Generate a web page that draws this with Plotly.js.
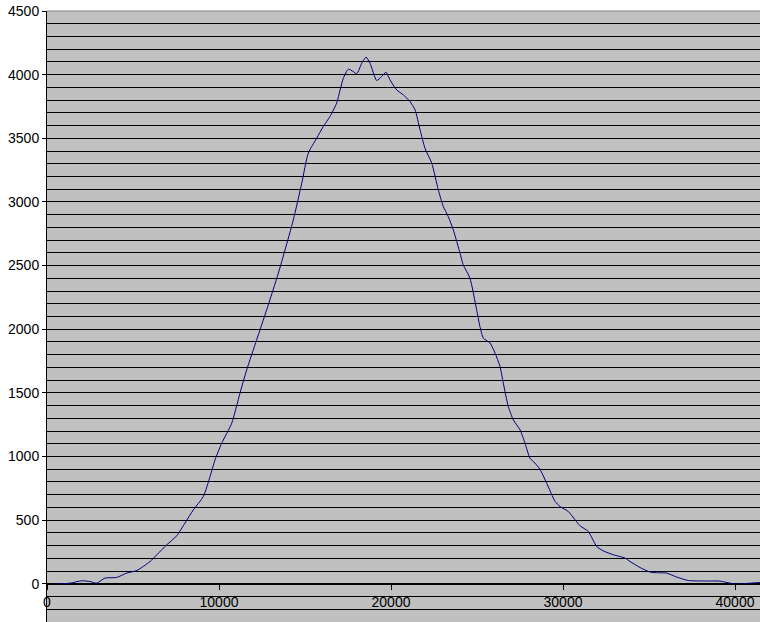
<!DOCTYPE html>
<html>
<head>
<meta charset="utf-8">
<script src="https://cdn.plot.ly/plotly-3.0.1.min.js"></script>
<style>html,body{margin:0;padding:0;background:#fff;}#chart{width:760px;height:622px;}</style>
</head>
<body>
<div id="chart"></div>
<script>
const xValues = [580, 760, 1340, 2020, 2500, 2890, 3370, 4050, 4630, 5220, 5990, 6380, 6960, 7540, 8020, 8510, 9090, 9480, 9770, 10160, 10740, 11220, 11610, 12190, 12770, 13450, 13840, 14320, 14810, 15190, 15680, 16060, 16450, 16840, 17040, 17230, 17520, 17810, 18010, 18300, 18550, 18780, 19170, 19460, 19710, 19940, 20330, 20720, 21100, 21400, 21690, 21980, 22370, 22750, 23040, 23330, 23620, 24010, 24200, 24590, 24980, 25170, 25370, 25760, 26050, 26340, 26530, 26820, 27110, 27500, 27790, 28080, 28370, 28660, 29050, 29540, 29830, 30310, 30700, 30990, 31470, 31960, 32340, 32930, 33610, 33900, 34480, 35060, 35540, 36030, 36610, 37290, 38260, 39130, 39710, 40100, 40870, 41450];
const yValues = [0, 0, 5, 24, 18, 5, 45, 50, 84, 105, 175, 228, 306, 377, 477, 581, 686, 843, 974, 1105, 1262, 1498, 1681, 1917, 2152, 2440, 2624, 2859, 3147, 3383, 3501, 3592, 3671, 3776, 3880, 3972, 4043, 4024, 4006, 4090, 4137, 4090, 3954, 3986, 4019, 3959, 3880, 3841, 3789, 3723, 3566, 3420, 3304, 3095, 2964, 2885, 2781, 2598, 2506, 2401, 2152, 2021, 1930, 1891, 1812, 1707, 1576, 1393, 1288, 1210, 1105, 987, 948, 900, 791, 647, 607, 568, 503, 456, 411, 293, 259, 228, 202, 175, 128, 92, 87, 84, 53, 26, 22, 21, 5, -2, 5, 10];
const xTicks = [0, 10000, 20000, 30000, 40000];
const yTicks = [0, 500, 1000, 1500, 2000, 2500, 3000, 3500, 4000, 4500];

const fontFamily = 'Liberation Sans, Arial, sans-serif';

Plotly.newPlot('chart', [{
  type: 'scatter',
  mode: 'lines',
  x: xValues,
  y: yValues,
  line: {color: '#000080', width: 1, shape: 'spline', smoothing: 0.6},
  hoverinfo: 'skip'
}], {
  width: 760,
  height: 622,
  margin: {l: 47, r: 0, t: 11, b: 0, pad: 0},
  paper_bgcolor: '#ffffff',
  plot_bgcolor: '#c0c0c0',
  showlegend: false,
  font: {family: fontFamily, size: 14, color: '#000'},
  xaxis: {
    range: [0, 41453],
    tickvals: xTicks,
    ticktext: xTicks.map(String),
    showgrid: false,
    zeroline: false,
    showline: true,
    linecolor: '#000',
    linewidth: 1,
    ticks: 'outside',
    ticklen: 5,
    tickcolor: '#000',
    anchor: 'free',
    position: 300 / 4800,
    tickfont: {family: fontFamily, size: 14, color: '#000'}
  },
  yaxis: {
    range: [-300, 4500],
    tickvals: yTicks,
    ticktext: yTicks.map(String),
    showgrid: true,
    gridcolor: '#000',
    gridwidth: 1,
    minor: {dtick: 100, tick0: 0, showgrid: true, gridcolor: '#000', gridwidth: 1, ticks: ''},
    zeroline: false,
    showline: true,
    linecolor: '#000',
    linewidth: 1,
    ticks: 'outside',
    ticklen: 4,
    tickcolor: '#000',
    tickfont: {family: fontFamily, size: 14, color: '#000'}
  },
  shapes: [{
    type: 'line', xref: 'paper', yref: 'paper', x0: 0, x1: 1, y0: 1, y1: 1,
    line: {color: '#808080', width: 1}
  }]
}, {staticPlot: true, displayModeBar: false});
</script>
</body>
</html>
